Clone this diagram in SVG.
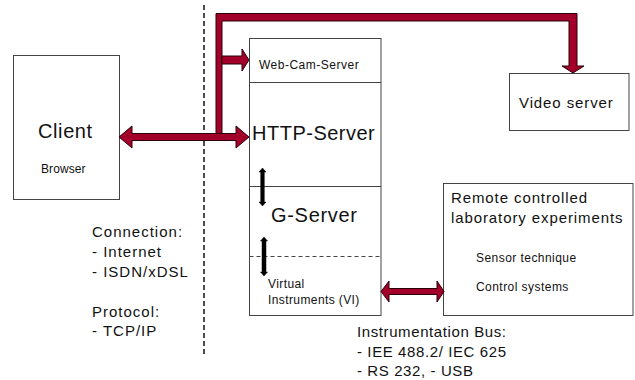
<svg xmlns="http://www.w3.org/2000/svg" width="635" height="380" viewBox="0 0 635 380">
<style>
.box{fill:#fff;stroke:#444;stroke-width:1}
.t{font-family:"Liberation Sans",Arial,sans-serif;fill:#111}
.red{fill:#A2002B;stroke:#2a0008;stroke-width:1;stroke-linejoin:miter}
.blk{fill:#000;stroke:#000;stroke-width:0.5}
.dash{stroke:#111;stroke-width:1.5;stroke-dasharray:5 3;fill:none}
.hdash{stroke:#444;stroke-width:1;stroke-dasharray:4 3;fill:none}
</style>
<rect width="635" height="380" fill="#fff"/>
<line class="dash" x1="204" y1="5" x2="204" y2="356"/>

<g id="client">
<rect class="box" x="13.5" y="55.5" width="106" height="144"/>
<text class="t" x="38" y="138" font-size="20" letter-spacing="0.6">Client</text>
<text class="t" x="41" y="173" font-size="12" letter-spacing="0.1">Browser</text>
</g>

<g id="server">
<rect class="box" x="249.5" y="38.5" width="131.5" height="277"/>
<line x1="249.5" y1="82.5" x2="381" y2="82.5" stroke="#444"/>
<line x1="249.5" y1="186.5" x2="381" y2="186.5" stroke="#444"/>
<line class="hdash" x1="249.5" y1="256.5" x2="381" y2="256.5"/>
</g>
<g id="webcam">
<text class="t" x="259" y="69" font-size="12" letter-spacing="0.5">Web-Cam-Server</text>
</g>
<g id="http">
<text class="t" x="252" y="140" font-size="20" letter-spacing="0.5">HTTP-Server</text>
</g>
<g id="gserver">
<text class="t" x="271" y="222" font-size="20" letter-spacing="0.7">G-Server</text>
</g>
<g id="vi">
<text class="t" x="268" y="288" font-size="12" letter-spacing="0.4">Virtual</text>
<text class="t" x="268" y="304" font-size="12" letter-spacing="0.4">Instruments (VI)</text>
</g>

<g id="video">
<rect class="box" x="509.5" y="73.5" width="119.5" height="57"/>
<text class="t" x="519" y="108" font-size="15" letter-spacing="0.9">Video server</text>
</g>

<g id="lab">
<rect class="box" x="443.5" y="183.5" width="189.5" height="132"/>
<text class="t" x="451" y="203" font-size="15" letter-spacing="0.9">Remote controlled</text>
<text class="t" x="451" y="223" font-size="15" letter-spacing="0.9">laboratory experiments</text>
<text class="t" x="476" y="262" font-size="12" letter-spacing="0.45">Sensor technique</text>
<text class="t" x="476" y="291" font-size="12" letter-spacing="0.45">Control systems</text>
</g>

<g id="notes">
<text class="t" font-size="15" letter-spacing="1">
<tspan x="92" y="237">Connection:</tspan>
<tspan x="92" y="257">- Internet</tspan>
<tspan x="92" y="277">- ISDN/xDSL</tspan>
<tspan x="92" y="317">Protocol:</tspan>
<tspan x="92" y="336">- TCP/IP</tspan>
</text>
<text class="t" font-size="15" letter-spacing="0.6">
<tspan x="357" y="337">Instrumentation Bus:</tspan>
<tspan x="357" y="357">- IEE 488.2/ IEC 625</tspan>
<tspan x="357" y="376">- RS 232, - USB</tspan>
</text>
</g>

<g id="connectors">
<polygon class="red" points="216,13.5 577,13.5 577,66 584,66 573,73 562,66 569,66 569,21 222,21 222,134 216,134"/>
<polygon class="red" points="222,56 242,56 242,49 249,60 242,71 242,64 222,64"/>
<polygon class="red" points="119,137 132,126 132,133.5 236,133.5 236,126 249,137 236,148 236,140.5 132,140.5 132,148"/>
<polygon class="red" points="381,291.5 389,281 389,288.5 437,288.5 437,281 444,291.5 437,302 437,294.5 389,294.5 389,302"/>
<polygon class="blk" points="262.5,168 266,172 264.3,172 264.3,202 266,202 262.5,206 259,202 260.7,202 260.7,172 259,172"/>
<polygon class="blk" points="264,237 267.5,241 266,241 266,272 267.5,272 264,276 260.5,272 262,272 262,241 260.5,241"/>
</g>
</svg>
